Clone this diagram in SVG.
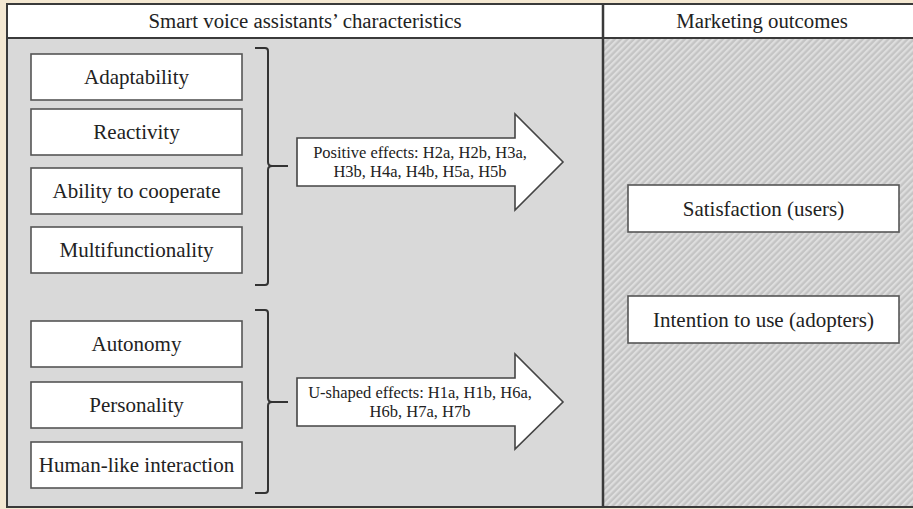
<svg xmlns="http://www.w3.org/2000/svg" width="913" height="509" viewBox="0 0 913 509">
<defs>
<pattern id="hatch" patternUnits="userSpaceOnUse" width="4.5" height="4.5" patternTransform="rotate(45)">
<rect width="4.5" height="4.5" fill="#c4c4c4"/>
<rect width="2.2" height="4.5" fill="#dedede"/>
</pattern>
<style>
text{font-family:"Liberation Serif","Times New Roman",serif;fill:#222;text-anchor:middle}
.box{fill:#fff;stroke:#555;stroke-width:1.6}
.lbl{font-size:21px}
.hdr{font-size:20.8px}
.alb{font-size:16.5px}
.arrow{fill:#fff;stroke:#444;stroke-width:1.6}
.brace{fill:none;stroke:#333;stroke-width:2}
</style>
</defs>
<rect width="913" height="509" fill="#f4e8d2"/>
<g id="panels">
<rect x="7" y="4" width="920" height="34" fill="#fff"/>
<rect x="7" y="38" width="596" height="469" fill="#d9d9d9"/>
<rect x="603" y="38" width="320" height="469" fill="url(#hatch)"/>
<rect x="7" y="4" width="920" height="503" fill="none" stroke="#3a3a3a" stroke-width="2"/>
<line x1="7" y1="38" x2="913" y2="38" stroke="#3a3a3a" stroke-width="2"/>
<line x1="603" y1="4" x2="603" y2="507" stroke="#3a3a3a" stroke-width="2.5"/>
<text class="hdr" x="305" y="28">Smart voice assistants’ characteristics</text>
<text class="hdr" x="762" y="28">Marketing outcomes</text>
</g>
<g id="n-adaptability"><rect class="box" x="31" y="54" width="211" height="46"/><text class="lbl" x="136.5" y="84">Adaptability</text></g>
<g id="n-reactivity"><rect class="box" x="31" y="109" width="211" height="46"/><text class="lbl" x="136.5" y="139">Reactivity</text></g>
<g id="n-cooperate"><rect class="box" x="31" y="168" width="211" height="46"/><text class="lbl" x="136.5" y="198">Ability to cooperate</text></g>
<g id="n-multi"><rect class="box" x="31" y="227" width="211" height="46"/><text class="lbl" x="136.5" y="257">Multifunctionality</text></g>
<g id="n-autonomy"><rect class="box" x="31" y="321" width="211" height="46"/><text class="lbl" x="136.5" y="351">Autonomy</text></g>
<g id="n-personality"><rect class="box" x="31" y="382" width="211" height="46"/><text class="lbl" x="136.5" y="412">Personality</text></g>
<g id="n-humanlike"><rect class="box" x="31" y="442" width="211" height="46"/><text class="lbl" x="136.5" y="472">Human-like interaction</text></g>
<g id="n-satisfaction"><rect class="box" x="628" y="185" width="271" height="47"/><text class="lbl" x="763.5" y="216">Satisfaction (users)</text></g>
<g id="n-intention"><rect class="box" x="628" y="296" width="271" height="47"/><text class="lbl" x="763.5" y="327">Intention to use (adopters)</text></g>
<g id="connectors">
<path class="brace" d="M255,48 L265,48 Q268,48 268,51 L268,162 Q268,166 272,166 L288,166 M272,166 Q268,166 268,170 L268,282 Q268,285 265,285 L255,285"/>
<path class="brace" d="M255,310 L265,310 Q268,310 268,313 L268,398 Q268,402 272,402 L288,402 M272,402 Q268,402 268,406 L268,490 Q268,493 265,493 L255,493"/>
<g id="arrow-positive">
<polygon class="arrow" points="297,138 515,138 515,114 563,162 515,210 515,186 297,186"/>
<text class="alb" x="420" y="158">Positive effects: H2a, H2b, H3a,</text>
<text class="alb" x="420" y="177">H3b, H4a, H4b, H5a, H5b</text>
</g>
<g id="arrow-ushaped">
<polygon class="arrow" points="297,378 515,378 515,354 563,402 515,449 515,426 297,426"/>
<text class="alb" x="420" y="398">U-shaped effects: H1a, H1b, H6a,</text>
<text class="alb" x="420" y="417">H6b, H7a, H7b</text>
</g>
</g>
</svg>
